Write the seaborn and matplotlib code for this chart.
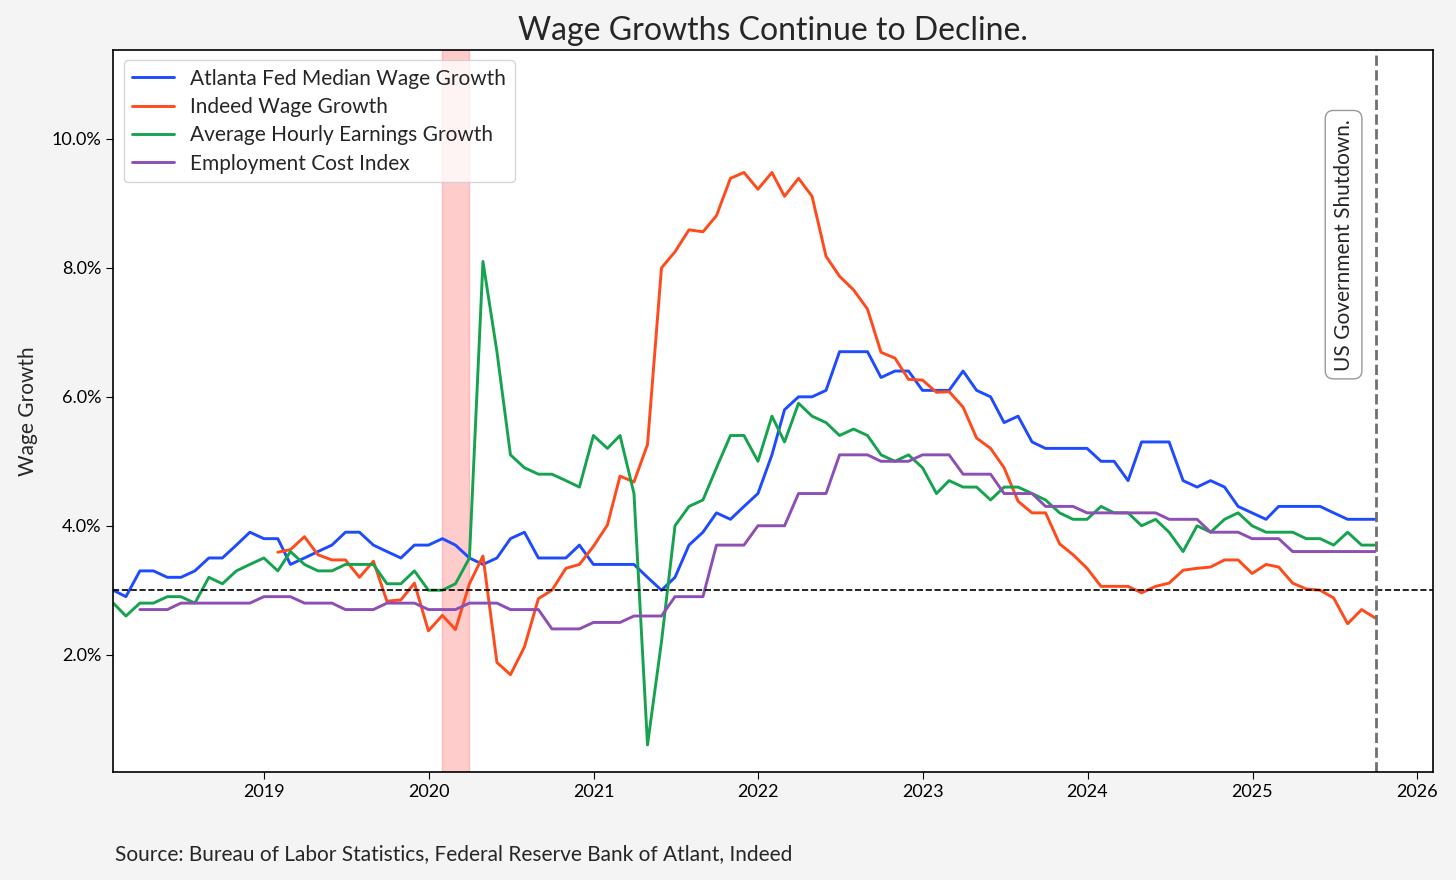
import numpy as np
import pandas as pd
import matplotlib.pyplot as plt
import matplotlib.dates as mdates
import matplotlib.ticker as mticker
import seaborn as sns

# monthly observations, Jan 2018 .. Sep 2025 (month end)
dates = pd.date_range("2018-01-31", periods=93, freq="ME")

atlanta = [3.0, 2.9, 3.3, 3.3, 3.2, 3.2, 3.3, 3.5, 3.5, 3.7, 3.9, 3.8,
           3.8, 3.4, 3.5, 3.6, 3.7, 3.9, 3.9, 3.7, 3.6, 3.5, 3.7, 3.7,
           3.8, 3.7, 3.5, 3.4, 3.5, 3.8, 3.9, 3.5, 3.5, 3.5, 3.7, 3.4,
           3.4, 3.4, 3.4, 3.2, 3.0, 3.2, 3.7, 3.9, 4.2, 4.1, 4.3, 4.5,
           5.1, 5.8, 6.0, 6.0, 6.1, 6.7, 6.7, 6.7, 6.3, 6.4, 6.4, 6.1,
           6.1, 6.1, 6.4, 6.1, 6.0, 5.6, 5.7, 5.3, 5.2, 5.2, 5.2, 5.2,
           5.0, 5.0, 4.7, 5.3, 5.3, 5.3, 4.7, 4.6, 4.7, 4.6, 4.3, 4.2,
           4.1, 4.3, 4.3, 4.3, 4.3, 4.2, 4.1, 4.1, 4.1]

indeed = [np.nan] * 12 + [
           3.59, 3.63, 3.83, 3.55, 3.47, 3.47, 3.20, 3.45, 2.83, 2.85, 3.11, 2.37,
           2.61, 2.39, 3.10, 3.53, 1.88, 1.69, 2.12, 2.87, 3.00, 3.34, 3.40, 3.68,
           4.01, 4.77, 4.68, 5.26, 8.00, 8.25, 8.59, 8.56, 8.81, 9.39, 9.48, 9.22,
           9.48, 9.11, 9.39, 9.11, 8.18, 7.87, 7.66, 7.36, 6.69, 6.60, 6.27, 6.26,
           6.07, 6.08, 5.84, 5.36, 5.20, 4.90, 4.38, 4.20, 4.20, 3.72, 3.55, 3.34,
           3.06, 3.06, 3.06, 2.96, 3.06, 3.11, 3.31, 3.34, 3.36, 3.47, 3.47, 3.26,
           3.40, 3.36, 3.11, 3.02, 3.00, 2.88, 2.48, 2.70, 2.57]

ahe = [2.8, 2.6, 2.8, 2.8, 2.9, 2.9, 2.8, 3.2, 3.1, 3.3, 3.4, 3.5,
       3.3, 3.6, 3.4, 3.3, 3.3, 3.4, 3.4, 3.4, 3.1, 3.1, 3.3, 3.0,
       3.0, 3.1, 3.5, 8.1, 6.7, 5.1, 4.9, 4.8, 4.8, 4.7, 4.6, 5.4,
       5.2, 5.4, 4.5, 0.6, 2.2, 4.0, 4.3, 4.4, 4.9, 5.4, 5.4, 5.0,
       5.7, 5.3, 5.9, 5.7, 5.6, 5.4, 5.5, 5.4, 5.1, 5.0, 5.1, 4.9,
       4.5, 4.7, 4.6, 4.6, 4.4, 4.6, 4.6, 4.5, 4.4, 4.2, 4.1, 4.1,
       4.3, 4.2, 4.2, 4.0, 4.1, 3.9, 3.6, 4.0, 3.9, 4.1, 4.2, 4.0,
       3.9, 3.9, 3.9, 3.8, 3.8, 3.7, 3.9, 3.7, 3.7]

eci = [np.nan, np.nan, 2.7, 2.7, 2.7, 2.8, 2.8, 2.8, 2.8, 2.8, 2.8, 2.9,
       2.9, 2.9, 2.8, 2.8, 2.8, 2.7, 2.7, 2.7, 2.8, 2.8, 2.8, 2.7,
       2.7, 2.7, 2.8, 2.8, 2.8, 2.7, 2.7, 2.7, 2.4, 2.4, 2.4, 2.5,
       2.5, 2.5, 2.6, 2.6, 2.6, 2.9, 2.9, 2.9, 3.7, 3.7, 3.7, 4.0,
       4.0, 4.0, 4.5, 4.5, 4.5, 5.1, 5.1, 5.1, 5.0, 5.0, 5.0, 5.1,
       5.1, 5.1, 4.8, 4.8, 4.8, 4.5, 4.5, 4.5, 4.3, 4.3, 4.3, 4.2,
       4.2, 4.2, 4.2, 4.2, 4.2, 4.1, 4.1, 4.1, 3.9, 3.9, 3.9, 3.8,
       3.8, 3.8, 3.6, 3.6, 3.6, 3.6, 3.6, 3.6, 3.6]

series_names = ["Atlanta Fed Median Wage Growth", "Indeed Wage Growth",
                "Average Hourly Earnings Growth", "Employment Cost Index"]
colors = ["#1f4bff", "#ff4a1c", "#16a34f", "#8e4fb5"]

df = pd.DataFrame({"date": dates,
                   series_names[0]: atlanta,
                   series_names[1]: indeed,
                   series_names[2]: ahe,
                   series_names[3]: eci})
long_df = df.melt(id_vars="date", var_name="series", value_name="growth").dropna()

sns.set_style("white")
plt.rcParams["font.family"] = ["Lato", "DejaVu Sans"]

fig, ax = plt.subplots(figsize=(14.56, 8.8), dpi=100)
fig.patch.set_facecolor("#f4f4f4")
fig.subplots_adjust(left=0.0778, right=0.9844, bottom=0.1227, top=0.9432)

ax.axvspan(pd.Timestamp("2020-01-31"), pd.Timestamp("2020-03-31"), color="red", alpha=0.2)

sns.lineplot(data=long_df, x="date", y="growth", hue="series", hue_order=series_names,
             palette=dict(zip(series_names, colors)), linewidth=2.1, ax=ax)

ax.axhline(3.0, color="black", linestyle="--", linewidth=1.2)
shutdown = pd.Timestamp("2025-10-01")
ax.axvline(shutdown, color="#707070", linestyle="--", linewidth=2)
ax.text(pd.Timestamp("2025-07-22"), 8.36, "US Government Shutdown.", rotation=90,
        ha="center", va="center", fontsize=15,
        bbox=dict(boxstyle="round,pad=0.4", fc="white", ec="#999999"))

ax.set_xlim(pd.Timestamp("2018-01-31"), pd.Timestamp("2026-02-06"))
ax.set_ylim(0.18, 11.38)
ax.xaxis.set_major_locator(mdates.YearLocator())
ax.xaxis.set_major_formatter(mdates.DateFormatter("%Y"))
ax.yaxis.set_major_locator(mticker.MultipleLocator(2))
ax.yaxis.set_major_formatter(mticker.FuncFormatter(lambda v, p: f"{v:.1f}%"))
ax.tick_params(axis="both", bottom=True, left=True, length=5, labelsize=13, colors="black")

for s in ax.spines.values():
    s.set_color("black")
    s.set_linewidth(1.2)

ax.set_xlabel("")
ax.set_ylabel("Wage Growth", fontsize=15, labelpad=10)
ax.set_title("Wage Growths Continue to Decline.", fontsize=23, pad=7)

handles, labels = ax.get_legend_handles_labels()
ax.legend(handles, labels, loc="upper left", fontsize=15, frameon=True,
          framealpha=0.8, edgecolor="#cccccc", handlelength=2.0, labelspacing=0.4)

fig.text(0.079, 0.03, "Source: Bureau of Labor Statistics, Federal Reserve Bank of Atlant, Indeed",
         fontsize=15, ha="left", va="center")

fig.savefig("out.png", dpi=100, facecolor=fig.get_facecolor())
